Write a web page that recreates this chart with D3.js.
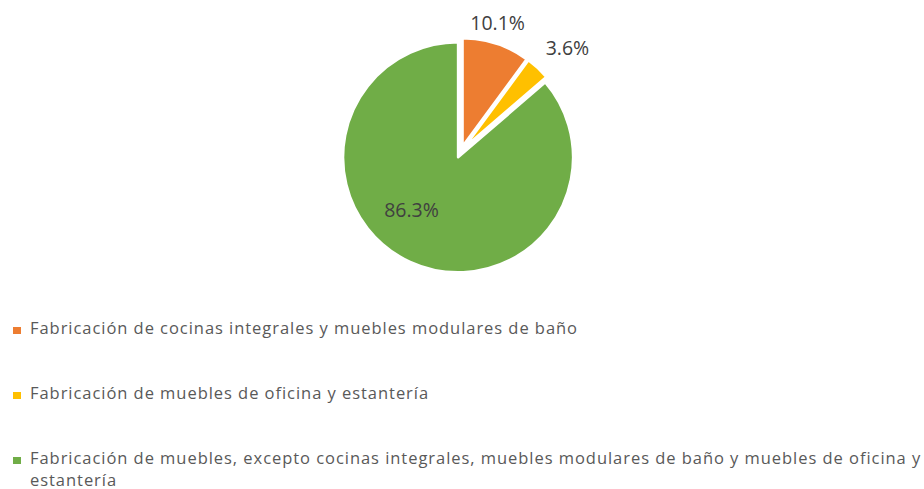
<!DOCTYPE html>
<html>
<head>
<meta charset="utf-8">
<script src="https://cdn.jsdelivr.net/npm/d3@7"></script>
<style>
  body { margin: 0; background: #fff; }
  svg { display: block; }
</style>
</head>
<body>
<svg id="chart" width="924" height="489"></svg>
<script>
// data
var categories = [
  "Fabricación de cocinas integrales y muebles modulares de baño",
  "Fabricación de muebles de oficina y estantería",
  "Fabricación de muebles, excepto cocinas integrales, muebles modulares de baño y muebles de oficina y estantería"
];
var shares = [10.1, 3.6, 86.3];
var colors = ["#ED7D31", "#FFC000", "#70AD47"];

// legend wraps the long one like the original
var legendLines = [
  ["Fabricación de cocinas integrales y muebles modulares de baño"],
  ["Fabricación de muebles de oficina y estantería"],
  ["Fabricación de muebles, excepto cocinas integrales, muebles modulares de baño y muebles de oficina y", "estantería"]
];

var cx = 461, cy = 151;
// per slice: explode offset, radius, label angle (deg) and label distance
var explode = [5, 5, 7],
    radius = [108, 108, 115],
    labAng = [16, 46, 220],
    labDist = [133, 148, 77];

var svg = d3.select("#chart");

var pie = d3.pie().sort(null).value(function(d) { return d; });
var arcs = pie(shares);

var g = svg.append("g").attr("transform", "translate(" + cx + "," + cy + ")");

g.selectAll("path")
  .data(arcs)
  .enter().append("path")
  .attr("transform", function(d, i) {
    var a = (d.startAngle + d.endAngle) / 2;
    return "translate(" + (Math.sin(a) * explode[i]) + "," + (-Math.cos(a) * explode[i]) + ")";
  })
  .attr("d", function(d, i) { return d3.arc().innerRadius(0).outerRadius(radius[i])(d); })
  .style("fill", function(d, i) { return colors[i]; })
  .style("stroke", "#fff")
  .style("stroke-width", 2.5)
  .style("stroke-linejoin", "round");

g.selectAll("text.lab")
  .data(arcs)
  .enter().append("text")
  .attr("class", "lab")
  .attr("x", function(d, i) { return Math.sin(labAng[i] * Math.PI / 180) * labDist[i]; })
  .attr("y", function(d, i) { return -Math.cos(labAng[i] * Math.PI / 180) * labDist[i]; })
  .attr("dy", "0.36em")
  .attr("text-anchor", "middle")
  .style("font-family", "'Open Sans', sans-serif")
  .style("font-size", "19.5px")
  .style("fill", "#404040")
  .text(function(d) { return d.data.toFixed(1) + "%"; });

// legend
var legendY = d3.scalePoint().domain(d3.range(categories.length)).range([334, 464]);

var leg = svg.selectAll("g.leg")
  .data(categories)
  .enter().append("g")
  .attr("class", "leg")
  .attr("transform", function(d, i) { return "translate(0," + legendY(i) + ")"; });

leg.append("rect")
  .attr("x", 13)
  .attr("y", -7)
  .attr("width", 8)
  .attr("height", 7)
  .style("fill", function(d, i) { return colors[i]; });

leg.each(function(d, i) {
  d3.select(this).selectAll("text")
    .data(legendLines[i])
    .enter().append("text")
    .attr("x", 30)
    .attr("y", function(t, j) { return j * 21.5; })
    .style("font-family", "'Open Sans', sans-serif")
    .style("font-size", "16.5px")
    .style("fill", "#595959")
    .text(function(t) { return t; });
});

// the original font is wider, spread letters so the first line ends near x=578
var first = svg.select("g.leg text").node();
var spacing = (548 - first.getComputedTextLength()) / first.textContent.length;
svg.selectAll("g.leg text").style("letter-spacing", spacing + "px");
</script>
</body>
</html>
